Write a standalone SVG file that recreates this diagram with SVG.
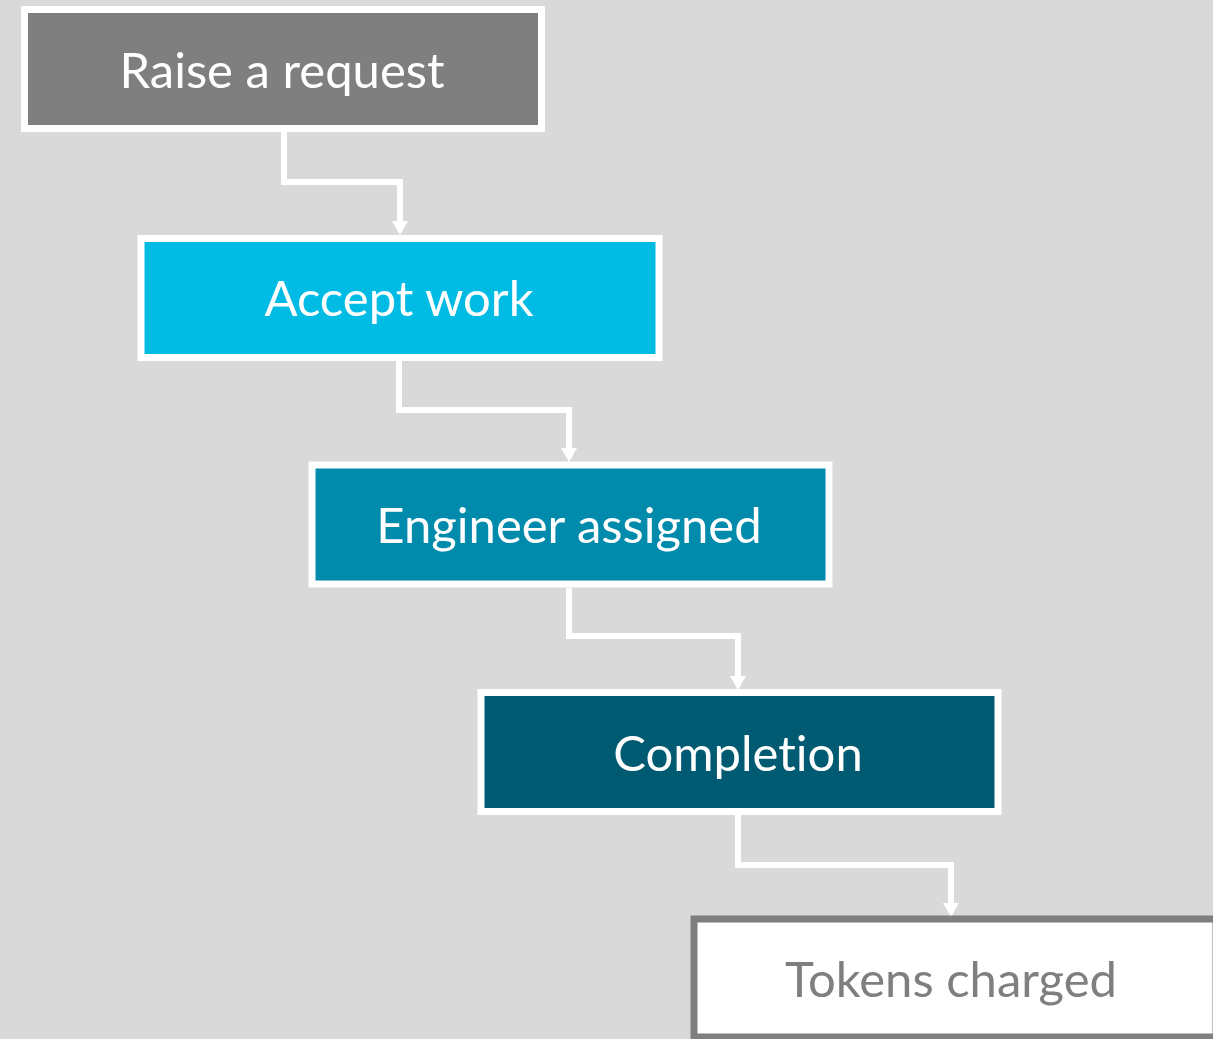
<svg xmlns="http://www.w3.org/2000/svg" width="1213" height="1039" viewBox="0 0 1213 1039">
<defs>
<marker id="ah" viewBox="0 0 14 16" refX="2" refY="8" markerWidth="14" markerHeight="16" markerUnits="userSpaceOnUse" orient="auto">
<path d="M0,0 L14,8 L0,16 Z" fill="#ffffff"/>
</marker>
</defs>
<style>
.box{stroke:#ffffff;stroke-width:7}
.lbl{font-family:Lato,"Open Sans",sans-serif;font-size:49px;fill:#ffffff;text-anchor:middle;font-variant-ligatures:none}
.conn{fill:none;stroke:#ffffff;stroke-width:6}
</style>
<rect width="1213" height="1039" fill="#d9d9d9"/>
<g id="connectors">
<path class="conn" d="M284,132 V182 H400 V223" marker-end="url(#ah)"/>
<path class="conn" d="M399,361 V410 H569 V450" marker-end="url(#ah)"/>
<path class="conn" d="M569,588 V636 H738 V678" marker-end="url(#ah)"/>
<path class="conn" d="M738,815 V865 H951 V905" marker-end="url(#ah)"/>
</g>
<g id="n1"><rect class="box" x="24.5" y="9.5" width="517" height="119" fill="#7f7f7f"/><text class="lbl" x="282" y="88">Raise a request</text></g>
<g id="n2"><rect class="box" x="141" y="238.5" width="518" height="119" fill="#00bce4"/><text class="lbl" x="399" y="316">Accept work</text></g>
<g id="n3"><rect class="box" x="312" y="465" width="517" height="119" fill="#008aab"/><text class="lbl" x="569" y="543">Engineer assigned</text></g>
<g id="n4"><rect class="box" x="481" y="692.5" width="517" height="119" fill="#005a71"/><text class="lbl" x="738" y="771">Completion</text></g>
<g id="n5"><rect x="694" y="919" width="522" height="118" fill="#ffffff" stroke="#7f7f7f" stroke-width="7"/><text class="lbl" x="951" y="997" style="fill:#7f7f7f">Tokens charged</text></g>
</svg>
